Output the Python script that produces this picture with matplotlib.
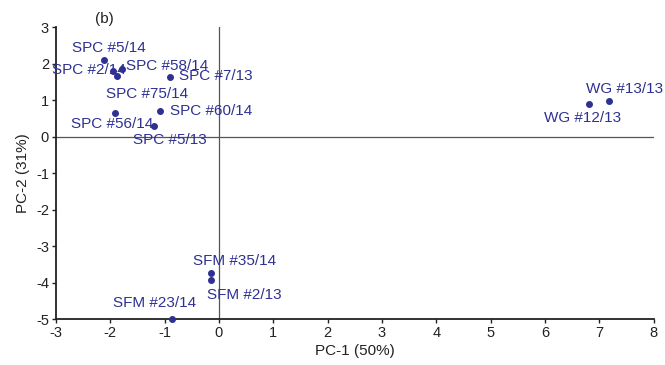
import matplotlib
matplotlib.use("Agg")
import matplotlib.pyplot as plt

plt.rcParams['font.family'] = ['Liberation Sans', 'DejaVu Sans']
plt.rcParams['axes.unicode_minus'] = False

# PCA scores (PC-1, PC-2) for each sample
names = ['SPC #5/14', 'SPC #2/14', 'SPC #58/14', 'SPC #75/14', 'SPC #7/13',
         'SPC #56/14', 'SPC #60/14', 'SPC #5/13',
         'WG #12/13', 'WG #13/13',
         'SFM #35/14', 'SFM #2/13', 'SFM #23/14']
pc1 = [-2.11, -1.95, -1.78, -1.88, -0.90,
       -1.91, -1.08, -1.19,
       6.81, 7.17,
       -0.15, -0.15, -0.86]
pc2 = [2.11, 1.81, 1.86, 1.67, 1.64,
       0.66, 0.71, 0.30,
       0.90, 0.97,
       -3.72, -3.92, -4.99]
# label offsets in pixels
lab_dx = [5, -24, 45, 30, 46, -3, 51, 16, -6, 16, 24, 34, -18]
lab_dy = [12, 1, 3, -18, 1, -11, 0, -14, -14, 12, 12, -15, 16]

navy = '#2e3192'

fig = plt.figure(figsize=(6.65, 3.65), dpi=100)
ax = fig.add_axes([0.084, 0.125, 0.899, 0.80])

ax.axhline(0, color='#555555', lw=0.9, zorder=1)
ax.axvline(0, color='#555555', lw=0.9, zorder=1)
ax.scatter(pc1, pc2, s=16, color=navy, zorder=3, clip_on=False)

for n, x, y, dx, dy in zip(names, pc1, pc2, lab_dx, lab_dy):
    ax.annotate(n, (x, y), xytext=(dx, dy), textcoords='offset pixels',
                ha='center', va='center', color=navy, fontsize=11)

ax.set_xlim(-3, 8)
ax.set_ylim(-5, 3)
ax.set_xticks(range(-3, 9))
ax.set_yticks(range(-5, 4))
for s in ['top', 'right']:
    ax.spines[s].set_visible(False)
for s in ['left', 'bottom']:
    ax.spines[s].set_color('#222222')
    ax.spines[s].set_linewidth(1.3)
ax.tick_params(direction='out', length=3, width=1, labelsize=10.5,
               colors='#222222', pad=2)
ax.set_xlabel('PC-1 (50%)', fontsize=11, color='#222222', labelpad=3)
ax.set_ylabel('PC-2 (31%)', fontsize=11, color='#222222', labelpad=4)
ax.text(0.065, 1.005, '(b)', transform=ax.transAxes, fontsize=11,
        color='#222222', ha='left', va='bottom')

fig.savefig('out.png', dpi=100)
